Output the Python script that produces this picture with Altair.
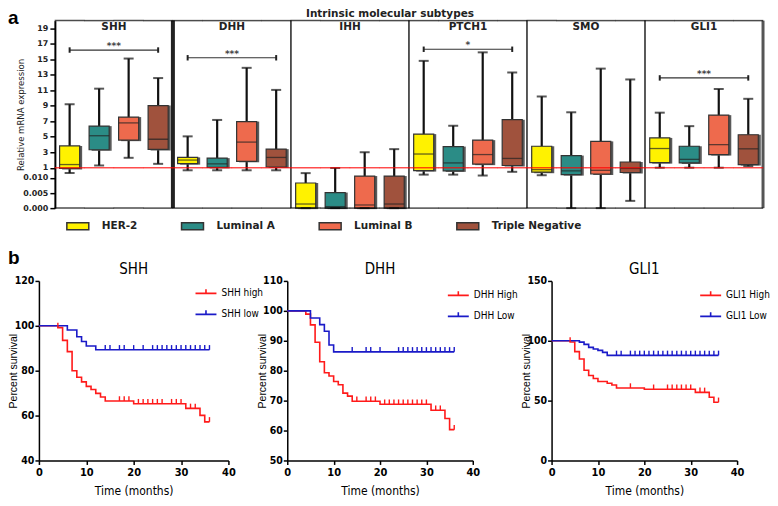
import altair as alt
import pandas as pd

# ---------------- panel a : box plots ----------------
genes = ["SHH", "DHH", "IHH", "PTCH1", "SMO", "GLI1"]
subtypes = ["HER-2", "Luminal A", "Luminal B", "Triple Negative"]
subtype_colors = ["#FFF200", "#2B8C86", "#EE6A4D", "#A0523D"]

# one row per gene, values in subtype order
whisker_low = [
    [0.0116, 1.29, 2.28, 1.50],
    [0.394, 0.394, 0.394, 0.394],
    [0.0, 0.0, 0.0, 0.0],
    [0.0111, 0.0111, 0.0108, 0.034],
    [0.0109, 0.0, 0.0, 0.0024],
    [1.0, 1.0, 1.0, 1.2],
]
quartile_1 = [
    [0.84, 3.32, 4.56, 3.36],
    [1.53, 1.04, 1.83, 1.09],
    [0.0, 0.0, 0.0, 0.0],
    [0.326, 0.259, 1.46, 1.29],
    [0.0119, 0.0111, 0.0113, 0.0118],
    [1.66, 1.62, 2.70, 1.41],
]
median = [
    [1.41, 5.13, 6.79, 4.68],
    [1.99, 1.50, 4.31, 2.33],
    [0.00136, 0.0005, 0.00104, 0.00136],
    [2.77, 1.62, 2.70, 2.20],
    [0.55, 0.259, 0.394, 0.84],
    [3.48, 2.08, 3.98, 3.44],
]
quartile_3 = [
    [3.82, 6.37, 7.54, 9.03],
    [2.33, 2.24, 6.96, 3.40],
    [0.00832, 0.00516, 0.01063, 0.01063],
    [5.34, 3.73, 4.56, 7.20],
    [3.77, 2.57, 4.40, 1.74],
    [4.85, 3.77, 7.79, 5.26],
]
whisker_high = [
    [9.19, 11.21, 15.1, 12.58],
    [5.05, 7.17, 13.9, 11.05],
    [0.0116, 0.93, 3.0, 3.4],
    [14.8, 6.42, 15.9, 13.3],
    [10.2, 8.16, 13.8, 12.4],
    [8.11, 6.37, 11.17, 9.90],
]

sig_genes = ["SHH", "DHH", "PTCH1", "GLI1"]
sig_level = [16.2, 15.2, 16.3, 12.6]
sig_label = ["***", "***", "*", "***"]
reference_level = [1.0]
y_tick_values = [0, 0.005, 0.010, 1, 3, 5, 7, 9, 11, 13, 15, 17, 19]
panel_labels = ["a", "b"]
top_title = ["Intrinsic molecular subtypes"]

# ---------------- panel b : Kaplan-Meier curves ----------------
km_titles = ["SHH", "DHH", "GLI1"]
km_groups = [["SHH high", "SHH low"], ["DHH High", "DHH Low"], ["GLI1 High", "GLI1 Low"]]
km_colors = ["#FF1A1A", "#1A1AC8"]

shh_high_t = [0, 4, 5, 6, 7, 8, 9, 10, 11, 12, 13, 14, 20, 31, 34, 35, 36]
shh_high_s = [100, 99.2, 93.5, 88.5, 80.0, 77.1, 75.0, 73.0, 71.6, 69.9, 68.3, 66.5, 65.3, 63.2, 60.1, 57.2, 57.2]
shh_high_c = [4, 17, 18, 19, 21, 22, 23, 24, 25, 26, 28, 29, 30, 32, 33, 36]
shh_low_t = [0, 6, 8, 9, 10, 12, 36]
shh_low_s = [100, 98.1, 95.1, 93.0, 91.0, 89.3, 89.3]
shh_low_c = [14, 15, 17, 18, 20, 22, 24, 25, 26, 27, 28, 29, 30, 31, 32, 33, 34, 35, 36]

dhh_high_t = [0, 4, 5, 6, 7, 8, 9, 10, 11, 12, 13, 14, 20, 31, 34, 35, 36]
dhh_high_s = [100, 98.9, 95.3, 89.5, 83.0, 79.3, 78.2, 76.4, 75.3, 72.5, 71.5, 69.8, 68.8, 66.8, 64.0, 60.3, 60.3]
dhh_high_c = [15, 17, 18, 19, 21, 22, 23, 24, 25, 26, 27, 28, 29, 30, 32, 33, 36]
dhh_low_t = [0, 5, 7, 8, 9, 10, 36]
dhh_low_s = [100, 97.6, 95.4, 93.2, 88.6, 86.3, 86.3]
dhh_low_c = [14, 17, 18, 20, 24, 25, 26, 27, 28, 29, 30, 31, 32, 33, 34, 35, 36]

gli1_high_t = [0, 4, 5, 6, 7, 8, 9, 10, 12, 13, 14, 20, 31, 34, 35, 36]
gli1_high_s = [100, 99.0, 90.9, 84.8, 75.4, 71.0, 68.5, 66.0, 64.5, 63.0, 60.5, 59.5, 56.9, 52.8, 48.6, 48.6]
gli1_high_c = [4, 17, 22, 25, 26, 27, 28, 29, 30, 32, 33, 36]
gli1_low_t = [0, 6, 7, 8, 9, 10, 11, 12, 36]
gli1_low_s = [100, 98.9, 97.0, 94.5, 93.1, 92.0, 90.3, 87.8, 87.8]
gli1_low_c = [14, 15, 17, 18, 19, 20, 21, 22, 23, 24, 25, 26, 27, 28, 29, 30, 31, 32, 33, 34, 35, 36]

# ---------------- styling ----------------
COND = "Liberation Sans Narrow, Arial Narrow, DejaVu Sans Condensed, sans-serif"
WIDE = "DejaVu Sans, Verdana, sans-serif"
ARIAL = "Liberation Sans, Arial, sans-serif"

LEFT_PAD = 16          # room inside the top chart so its frame sits right of panel b's axis
PLOT_W, TOP_H = 710, 188
TOP_W = LEFT_PAD + PLOT_W
STEP = PLOT_W / 24.0

# ---------------- build panel a ----------------
rows = []
for gi, g in enumerate(genes):
    for si, s in enumerate(subtypes):
        rows.append({"gene": g, "subtype": s, "key": f"{g}|{s}",
                     "wl": whisker_low[gi][si], "q1": quartile_1[gi][si],
                     "med": median[gi][si], "q3": quartile_3[gi][si],
                     "wh": whisker_high[gi][si]})
box_df = pd.DataFrame(rows)
keys = [f"{g}|{s}" for g in genes for s in subtypes]

gene_df = pd.DataFrame({"gene": genes})
gene_df["first"] = gene_df["gene"] + "|" + subtypes[0]
gene_df["mid"] = gene_df["gene"] + "|" + subtypes[2]
gene_df["last"] = gene_df["gene"] + "|" + subtypes[3]

sig_df = pd.DataFrame({"gene": sig_genes, "y": sig_level, "label": sig_label})
sig_df["left"] = sig_df["gene"] + "|" + subtypes[0]
sig_df["right"] = sig_df["gene"] + "|" + subtypes[3]
sig_df["mid"] = sig_df["gene"] + "|" + subtypes[2]

xs = alt.Scale(domain=keys, paddingInner=0, paddingOuter=0, range=[LEFT_PAD, TOP_W])
ys = alt.Scale(domain=[0, 0.012, 1, 20], range=[TOP_H, 151.7, 147.5, 0],
               nice=False, zero=False)
yaxis = alt.Axis(values=y_tick_values,
                 labelExpr="datum.value < 0.5 ? format(datum.value, '.3f') : format(datum.value, 'd')",
                 title="Relative mRNA expression", grid=False, offset=-LEFT_PAD,
                 domainColor="black", domainWidth=2, tickColor="black", tickWidth=1.5,
                 tickSize=5, labelFont=WIDE, labelFontSize=8, labelFontWeight="bold",
                 labelColor="#222", labelPadding=2, titleFont=COND, titleFontSize=9.5,
                 titleFontWeight="normal", titleColor="#222", titlePadding=0,
                 minExtent=29, maxExtent=29)


def X(field, bp=None):
    if bp is None:
        return alt.X(f"{field}:N", scale=xs, axis=None)
    return alt.X(f"{field}:N", scale=xs, axis=None, bandPosition=bp)


def Y(field):
    return alt.Y(f"{field}:Q", scale=ys, axis=yaxis)


base = alt.Chart(box_df)
box_w = alt.RelativeBandSize(band=0.68)

frame_top = base.mark_tick(color="black", thickness=1.5, size=STEP + 0.4, orient="horizontal").encode(
    x=X("key"), y=alt.value(0))
frame_bottom = base.mark_tick(color="black", thickness=1.5, size=STEP + 0.4, orient="horizontal").encode(
    x=X("key"), y=alt.value(TOP_H))
separators = alt.Chart(gene_df).transform_filter(alt.datum.gene != genes[0]).mark_rule(color="#222").encode(
    x=X("first", 0),
    strokeWidth=alt.condition(alt.datum.gene == genes[1], alt.value(4), alt.value(1.5)),
)
right_edge = alt.Chart(gene_df).transform_filter(alt.datum.gene == genes[-1]).mark_rule(
    color="#555", strokeWidth=3).encode(x=X("last", 1))

whiskers = base.mark_rule(color="#111", strokeWidth=2.2).encode(x=X("key"), y=Y("wl"), y2="wh:Q")
shadow = base.mark_bar(color="#5a5a5a", width=box_w, xOffset=2.5, yOffset=1).encode(
    x=X("key"), y=Y("q1"), y2="q3:Q")
boxes = base.mark_bar(width=box_w, stroke="#333", strokeWidth=1.2).encode(
    x=X("key"), y=Y("q1"), y2="q3:Q",
    color=alt.Color("subtype:N", scale=alt.Scale(domain=subtypes, range=subtype_colors),
                    legend=alt.Legend(orient="none", legendX=LEFT_PAD + 11, legendY=194,
                                      direction="horizontal", columns=4, title=None,
                                      symbolType="M-1,-0.32H1V0.32H-1Z", symbolSize=484,
                                      symbolStrokeColor="#333", symbolStrokeWidth=1.5,
                                      labelFont=WIDE, labelFontWeight="bold",
                                      labelFontSize=10.5, labelOffset=12,
                                      columnPadding=41, labelColor="#222")),
)
medians = base.mark_tick(color="#222", thickness=1.3, size=20, orient="horizontal").encode(
    x=X("key"), y=Y("med"))
caps_hi = base.mark_tick(color="#111", thickness=2, size=10, orient="horizontal").encode(
    x=X("key"), y=Y("wh"))
caps_lo = base.mark_tick(color="#111", thickness=2, size=10, orient="horizontal").encode(
    x=X("key"), y=Y("wl"))
red_line = base.mark_tick(color="#FF0000", thickness=1.5, size=STEP + 0.4, orient="horizontal").encode(
    x=X("key"), y=alt.Y(datum=reference_level[0], scale=ys, axis=yaxis))
gene_text = alt.Chart(gene_df).mark_text(font=WIDE, fontSize=10.5, fontWeight="bold",
                                        baseline="top", color="#222").encode(
    x=X("mid", 0), y=alt.value(1), text="gene:N")

sig_base = alt.Chart(sig_df).transform_calculate(lo="datum.y - 0.35", hi="datum.y + 0.35")
sig_bar = sig_base.mark_rule(color="#333", strokeWidth=1.2).encode(
    x=X("left"), x2="right:N", y=Y("y"))
sig_cap_l = sig_base.mark_rule(color="#222", strokeWidth=2).encode(
    x=X("left"), y=Y("lo"), y2="hi:Q")
sig_cap_r = sig_base.mark_rule(color="#222", strokeWidth=2).encode(
    x=X("right"), y=Y("lo"), y2="hi:Q")
sig_text = sig_base.mark_text(font=WIDE, fontSize=9, fontWeight="bold", color="#444",
                              baseline="middle", dy=-4).encode(
    x=X("mid", 0), y=Y("y"), text="label:N")

a_label = alt.Chart(pd.DataFrame({"t": panel_labels[:1]})).mark_text(
    font=ARIAL, fontSize=19, fontWeight="bold", align="left", baseline="top",
    color="black").encode(x=alt.value(-31), y=alt.value(-12), text="t:N")
header = alt.Chart(pd.DataFrame({"t": top_title})).mark_text(
    font=WIDE, fontSize=10.5, fontWeight="bold", align="center", baseline="bottom",
    color="#222").encode(x=alt.value(LEFT_PAD + 336), y=alt.value(-2), text="t:N")

top = alt.layer(separators, right_edge, whiskers, shadow, boxes, medians, caps_hi, caps_lo,
                red_line, frame_top, frame_bottom, gene_text, sig_bar, sig_cap_l, sig_cap_r,
                sig_text, a_label, header).properties(width=TOP_W, height=TOP_H)


# ---------------- build panel b ----------------
def km_panel(title, names, times, survs, censors, ydom, yvals, width, plot_w,
             legx=160, legy=1, with_label=False):
    line_rows, cens_rows = [], []
    for n, ts, ss, cs in zip(names, times, survs, censors):
        for t, s in zip(ts, ss):
            line_rows.append({"group": n, "time": t, "surv": s})
        for c in cs:
            v = [s for t, s in zip(ts, ss) if t <= c][-1]
            cens_rows.append({"group": n, "time": c, "surv": v})
    line_df = pd.DataFrame(line_rows)
    cens_df = pd.DataFrame(cens_rows)

    xsc = alt.Scale(domain=[0, 40], nice=False, range=[0, plot_w])
    ysc = alt.Scale(domain=ydom, nice=False, zero=False)
    xax = alt.Axis(values=[0, 10, 20, 30, 40], title="Time (months)", grid=False,
                   domainColor="black", domainWidth=1.5, tickColor="black", tickWidth=1.5,
                   tickSize=4, labelFont=COND, labelFontSize=11, labelFontWeight="bold",
                   labelColor="black", labelPadding=2, labelFlush=False,
                   titleFont=COND, titleFontSize=12, titleFontWeight="normal",
                   titleColor="black", titlePadding=8)
    yax = alt.Axis(values=yvals, title="Percent survival", grid=False,
                   domainColor="black", domainWidth=1.5, tickColor="black", tickWidth=1.5,
                   tickSize=4, labelFont=COND, labelFontSize=10.5, labelFontWeight="bold",
                   labelColor="black", labelPadding=1, titleFont=ARIAL, titleFontSize=10.5,
                   titleFontWeight="normal", titleColor="black", titlePadding=1,
                   minExtent=19, maxExtent=19)
    leg = alt.Legend(orient="none", legendX=legx, legendY=legy, direction="vertical",
                     title=None, symbolType="M-1,0H1M0,0V-0.4", symbolSize=441,
                     symbolStrokeWidth=1.6, labelFont=COND, labelFontSize=10,
                     labelOffset=4, rowPadding=4, labelColor="black")
    col = alt.Color("group:N", scale=alt.Scale(domain=names, range=km_colors), legend=leg)
    line = alt.Chart(line_df).mark_line(interpolate="step-after", strokeWidth=1.6).encode(
        x=alt.X("time:Q", scale=xsc, axis=xax), y=alt.Y("surv:Q", scale=ysc, axis=yax),
        color=col)
    ticks = alt.Chart(cens_df).mark_point(shape="M0,0V-1", size=90, filled=False,
                                          strokeWidth=1.4, opacity=1).encode(
        x=alt.X("time:Q", scale=xsc, axis=xax), y=alt.Y("surv:Q", scale=ysc, axis=yax),
        color=col)
    ttl = alt.Chart(pd.DataFrame({"t": [title]})).mark_text(
        font=COND, fontSize=15, color="black", align="center", baseline="middle").encode(
        x=alt.value(plot_w / 2), y=alt.value(-12), text="t:N")
    layers = [line, ticks, ttl]
    if with_label:
        layers.append(alt.Chart(pd.DataFrame({"t": panel_labels[1:]})).mark_text(
            font=ARIAL, fontSize=19, fontWeight="bold", align="left", baseline="top",
            color="black").encode(x=alt.value(-31), y=alt.value(-32), text="t:N"))
    return alt.layer(*layers).properties(width=width, height=180)


km1 = km_panel(km_titles[0], km_groups[0], [shh_high_t, shh_low_t], [shh_high_s, shh_low_s],
               [shh_high_c, shh_low_c], [40, 120], [40, 60, 80, 100, 120], 190, 190,
               legx=156, legy=1, with_label=True)
km2 = km_panel(km_titles[1], km_groups[1], [dhh_high_t, dhh_low_t], [dhh_high_s, dhh_low_s],
               [dhh_high_c, dhh_low_c], [50, 110], [50, 60, 70, 80, 90, 100, 110], 206, 186,
               legx=160, legy=3)
km3 = km_panel(km_titles[2], km_groups[2], [gli1_high_t, gli1_low_t], [gli1_high_s, gli1_low_s],
               [gli1_high_c, gli1_low_c], [0, 150], [0, 50, 100, 150], 186, 186,
               legx=148, legy=3)

bottom = alt.hconcat(km1, km2, km3, spacing=59, bounds="flush").resolve_scale(color="independent")

chart = alt.vconcat(top, bottom, spacing=16).resolve_scale(color="independent").properties(
    padding=0).configure_view(stroke=None)

chart.save("out.html", embed_options={"renderer": "svg", "actions": False})
